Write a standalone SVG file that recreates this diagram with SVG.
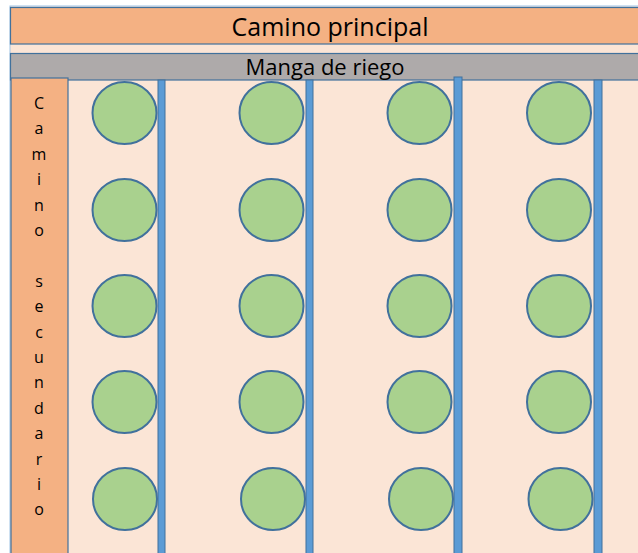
<svg xmlns="http://www.w3.org/2000/svg" width="638" height="553" viewBox="0 0 638 553">
<style>
.bar{stroke:#41719C;stroke-width:1.2}
.pipe{fill:#5B9BD5;stroke:#41719C;stroke-width:1}
.tree{fill:#A9D18E;stroke:#41719C;stroke-width:2}
.t{font-family:"Open Sans","Noto Sans","Liberation Sans",sans-serif;fill:#000}
</style>
<rect x="0" y="0" width="638" height="553" fill="#FFFFFF"/>
<rect x="10" y="6" width="630" height="550" fill="#FBE5D6" stroke="#9DC3E6" stroke-width="1"/>
<g id="camino-principal">
<rect class="bar" x="10.5" y="7.5" width="630" height="36.5" fill="#F4B183"/>
<text class="t" x="330" y="36" font-size="25" text-anchor="middle">Camino principal</text>
</g>
<g id="manga-de-riego">
<rect class="bar" x="10.5" y="53.5" width="630" height="26.5" fill="#AEAAAA"/>
<text class="t" x="325" y="74.5" font-size="22" text-anchor="middle">Manga de riego</text>
</g>
<g id="camino-secundario">
<rect class="bar" x="11" y="78" width="57" height="480" fill="#F4B183"/>
<text class="t" font-size="16" text-anchor="middle"><tspan x="39" y="109">C</tspan><tspan x="39" y="134.4">a</tspan><tspan x="39" y="159.8">m</tspan><tspan x="39" y="185.2">i</tspan><tspan x="39" y="210.6">n</tspan><tspan x="39" y="236">o</tspan><tspan x="39" y="286.8">s</tspan><tspan x="39" y="312.2">e</tspan><tspan x="39" y="337.6">c</tspan><tspan x="39" y="363">u</tspan><tspan x="39" y="388.4">n</tspan><tspan x="39" y="413.8">d</tspan><tspan x="39" y="439.2">a</tspan><tspan x="39" y="464.6">r</tspan><tspan x="39" y="490">i</tspan><tspan x="39" y="515.4">o</tspan></text>
</g>
<g id="mangueras">
<rect id="manguera-1" class="pipe" x="158" y="80" width="7" height="480"/>
<rect id="manguera-2" class="pipe" x="306" y="80" width="7" height="480"/>
<rect id="manguera-3" class="pipe" x="454" y="77" width="8" height="480"/>
<rect id="manguera-4" class="pipe" x="594" y="80" width="8" height="480"/>
</g>
<g id="arboles">
<g id="col-1">
<ellipse class="tree" cx="124.5" cy="113" rx="32" ry="31"/>
<ellipse class="tree" cx="124.5" cy="210" rx="32" ry="31"/>
<ellipse class="tree" cx="124.5" cy="306" rx="32" ry="31"/>
<ellipse class="tree" cx="124.5" cy="402" rx="32" ry="31"/>
<ellipse class="tree" cx="125" cy="499" rx="32" ry="31"/>
</g>
<g id="col-2">
<ellipse class="tree" cx="271.5" cy="113" rx="32" ry="31"/>
<ellipse class="tree" cx="271.5" cy="210" rx="32" ry="31"/>
<ellipse class="tree" cx="271.5" cy="306" rx="32" ry="31"/>
<ellipse class="tree" cx="271.5" cy="402" rx="32" ry="31"/>
<ellipse class="tree" cx="273" cy="499" rx="32" ry="31"/>
</g>
<g id="col-3">
<ellipse class="tree" cx="419.5" cy="113" rx="32" ry="31"/>
<ellipse class="tree" cx="419.5" cy="210" rx="32" ry="31"/>
<ellipse class="tree" cx="419.5" cy="306" rx="32" ry="31"/>
<ellipse class="tree" cx="419.5" cy="402" rx="32" ry="31"/>
<ellipse class="tree" cx="421" cy="499" rx="32" ry="31"/>
</g>
<g id="col-4">
<ellipse class="tree" cx="559" cy="113" rx="32" ry="31"/>
<ellipse class="tree" cx="559" cy="210" rx="32" ry="31"/>
<ellipse class="tree" cx="559" cy="306" rx="32" ry="31"/>
<ellipse class="tree" cx="559" cy="402" rx="32" ry="31"/>
<ellipse class="tree" cx="560.5" cy="499" rx="32" ry="31"/>
</g>
</g>
</svg>
